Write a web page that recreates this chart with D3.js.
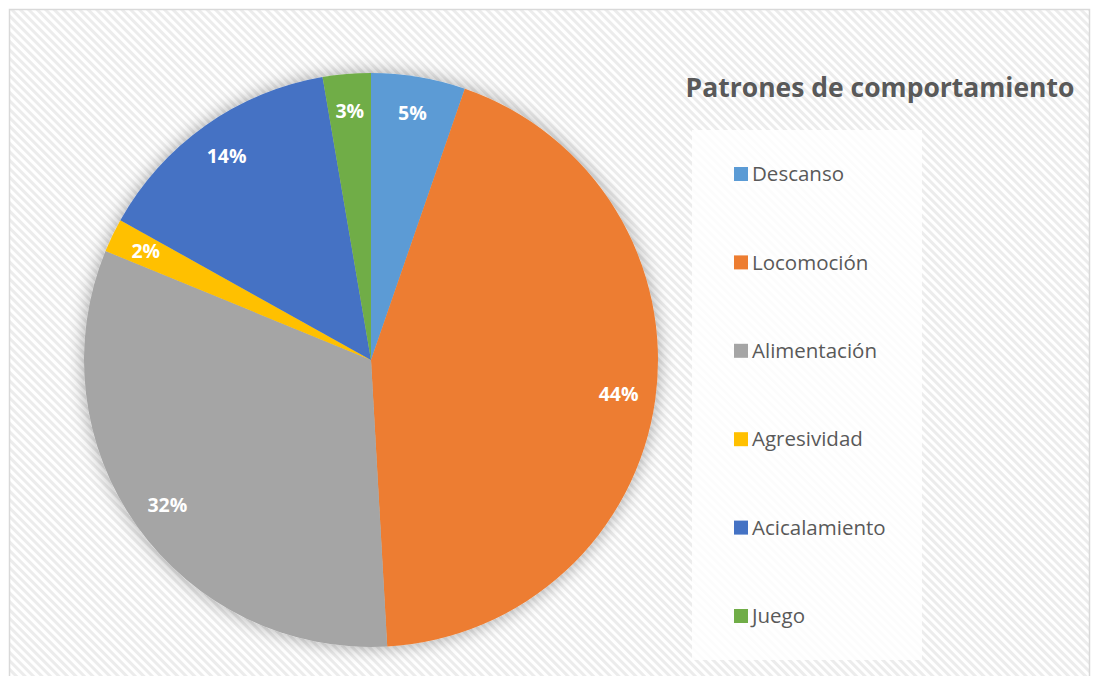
<!DOCTYPE html>
<html>
<head>
<meta charset="utf-8">
<script src="https://cdn.jsdelivr.net/npm/d3@7"></script>
<style>
  body { margin: 0; background: #fff; }
  text { font-family: "Open Sans", "DejaVu Sans", sans-serif; }
</style>
</head>
<body>
<div id="chart"></div>
<script>
// dimensions
var width = 1094
var height = 676

// données
var categories = ["Descanso", "Locomoción", "Alimentación", "Agresividad", "Acicalamiento", "Juego"]
var values = [5.3, 43.8, 32.1, 1.9, 14.2, 2.7]
var labels = ["5%", "44%", "32%", "2%", "14%", "3%"]
var colors = ["#5b9bd5", "#ed7d31", "#a5a5a5", "#ffc000", "#4472c4", "#70ad47"]
var title = "Patrones de comportamiento"

var svg = d3.select("#chart")
  .append("svg")
    .attr("width", width)
    .attr("height", height)

var defs = svg.append("defs")

// motif de fond en diagonales
var pat = defs.append("pattern")
  .attr("id", "stripes")
  .attr("width", 6)
  .attr("height", 6)
  .attr("patternUnits", "userSpaceOnUse")
  .attr("patternTransform", "rotate(-45)")
pat.append("rect").attr("width", 6).attr("height", 6).attr("fill", "#ffffff")
pat.append("rect").attr("width", 3).attr("height", 6).attr("fill", "#ececec")

// ombre du camembert
var filter = defs.append("filter")
  .attr("id", "shadow")
  .attr("x", "-20%").attr("y", "-20%")
  .attr("width", "140%").attr("height", "140%")
filter.append("feGaussianBlur")
  .attr("in", "SourceAlpha")
  .attr("stdDeviation", 9)
  .attr("result", "blur")
filter.append("feComponentTransfer")
  .append("feFuncA").attr("type", "linear").attr("slope", 0.35)
var merge = filter.append("feMerge")
merge.append("feMergeNode")
merge.append("feMergeNode").attr("in", "SourceGraphic")

// zone du graphique
svg.append("rect")
  .attr("x", 9.5).attr("y", 9.5)
  .attr("width", 1080).attr("height", 700)
  .attr("fill", "url(#stripes)")
  .attr("stroke", "#d9d9d9")
  .attr("stroke-width", 1.5)

// camembert
var cx = 371, cy = 360, radius = 287

var pie = d3.pie().sort(null).value(function(d){ return d })
var arcs = pie(values)

var arc = d3.arc().innerRadius(0).outerRadius(radius)
var labelArc = d3.arc().innerRadius(250).outerRadius(250)

var g = svg.append("g")
  .attr("transform", "translate(" + cx + "," + cy + ")")

g.append("g")
  .attr("filter", "url(#shadow)")
  .selectAll("path")
  .data(arcs)
  .enter()
  .append("path")
    .attr("d", arc)
    .attr("fill", function(d, i){ return colors[i] })

g.selectAll("text.lbl")
  .data(arcs)
  .enter()
  .append("text")
    .attr("class", "lbl")
    .attr("transform", function(d){ return "translate(" + labelArc.centroid(d) + ")" })
    .attr("text-anchor", "middle")
    .attr("dy", "0.35em")
    .style("font-size", "19.5px")
    .style("font-weight", "bold")
    .style("fill", "#ffffff")
    .text(function(d, i){ return labels[i] })

// titre
svg.append("text")
  .attr("x", 880)
  .attr("y", 97)
  .attr("text-anchor", "middle")
  .style("font-size", "26.5px")
  .style("font-weight", "bold")
  .style("fill", "#595959")
  .text(title)

// légende
svg.append("rect")
  .attr("x", 692).attr("y", 130)
  .attr("width", 230).attr("height", 530)
  .attr("fill", "#ffffff")
  .attr("fill-opacity", 0.85)

var ly = d3.scalePoint()
  .domain(categories)
  .range([174, 616])

svg.selectAll("rect.key")
  .data(categories)
  .enter()
  .append("rect")
    .attr("class", "key")
    .attr("x", 734)
    .attr("y", function(d){ return ly(d) - 7 })
    .attr("width", 14)
    .attr("height", 14)
    .attr("fill", function(d, i){ return colors[i] })

svg.selectAll("text.key")
  .data(categories)
  .enter()
  .append("text")
    .attr("class", "key")
    .attr("x", 752)
    .attr("y", function(d){ return ly(d) })
    .attr("dy", "0.35em")
    .style("font-size", "20.5px")
    .style("fill", "#595959")
    .text(function(d){ return d })
</script>
</body>
</html>
